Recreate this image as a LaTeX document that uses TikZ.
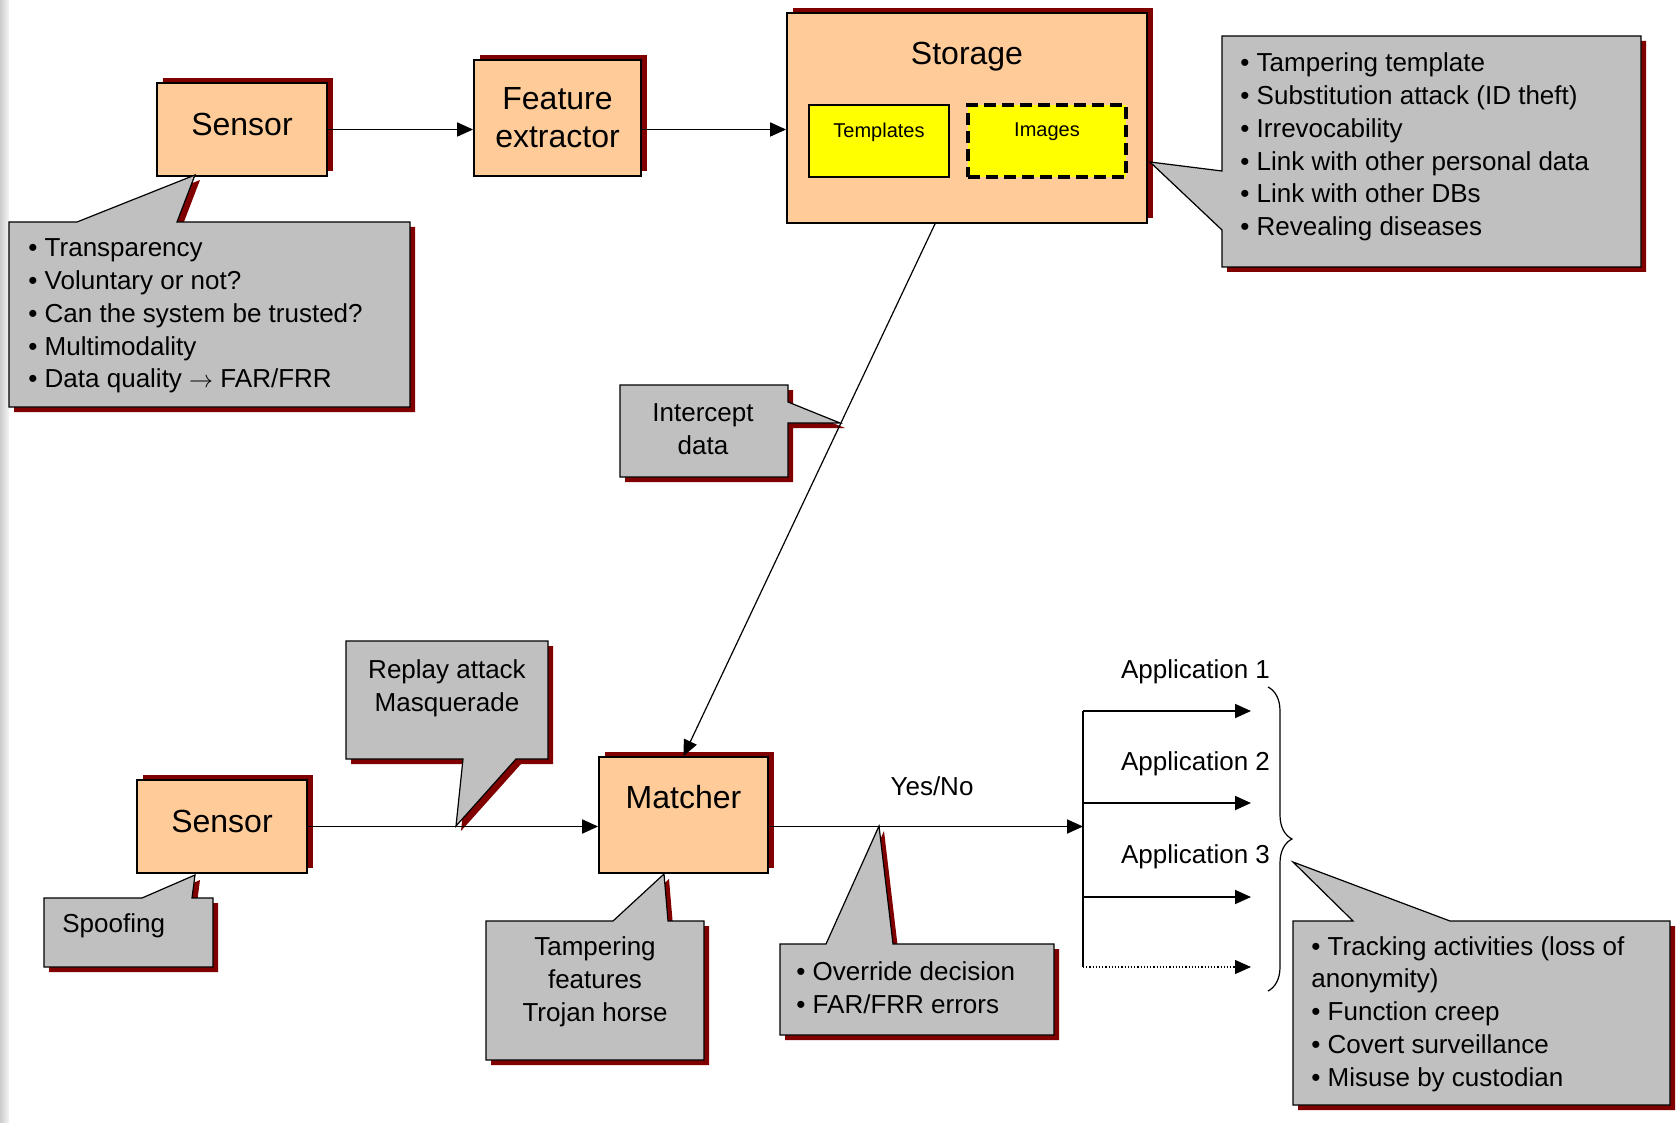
\documentclass[tikz,border=0pt]{standalone}
\usepackage{fontspec}
\setmainfont{Liberation Sans}
\usetikzlibrary{positioning, arrows.meta, shadows, decorations.pathreplacing}
\definecolor{peach}{HTML}{FFCC99}
\definecolor{bubblegray}{HTML}{C0C0C0}
\definecolor{shadowred}{HTML}{800000}
\definecolor{memyellow}{HTML}{FFFF00}
\newcommand{\boxfont}{\fontsize{16}{19}\selectfont}
\newcommand{\notefont}{\fontsize{13}{16.4}\selectfont}
\tikzset{
x=0.5pt, y=-0.5pt, % one unit is one pixel of the slide
>={Triangle[length=8pt,width=7pt]}, % filled arrow heads
block/.style={draw, line width=0.9pt, fill=peach, font=\boxfont, align=center, inner sep=0pt,
  drop shadow={fill=shadowred, opacity=1, shadow xshift=3pt, shadow yshift=2.5pt}}, % orange stages
memory/.style={draw, line width=0.8pt, fill=memyellow, font=\fontsize{10}{12}\selectfont,
  minimum width=70pt, minimum height=36pt, text depth=11pt, inner sep=0pt}, % boxes inside storage
bubble/.style={draw, line width=0.6pt, fill=bubblegray,
  drop shadow={fill=shadowred, opacity=1, shadow xshift=2.5pt, shadow yshift=-2.5pt}}, % grey callouts
note/.style={font=\notefont, align=left, inner sep=0pt}, % callout text
link/.style={->, line width=0.9pt}, % arrows between stages
}

\begin{document}
\begin{tikzpicture}[font=\notefont]
\useasboundingbox (0,0) rectangle (1676,1123);
\shade[left color=gray!40, right color=gray!8] (0,0) rectangle (9,1123);

% stages
\node[block, minimum width=85pt, minimum height=46.5pt, text depth=5pt] (sens1) at (242,129.5) {Sensor};
\node[block, minimum width=83.5pt, minimum height=58pt] (feat) at (557.5,118) {Feature\\extractor};
\node[block, minimum width=180pt, minimum height=105pt, text depth=65pt] (store) at (967,118) {Storage};
\node[memory] (tmpl) at (879,141) {Templates};
\node[memory, minimum width=79pt, line width=1.6pt, dash pattern=on 6pt off 3pt] (imgs) at (1047,141) {Images};
\node[block, minimum width=85pt, minimum height=46.5pt, text depth=5pt] (sens2) at (222,826.5) {Sensor};
\node[block, minimum width=84.5pt, minimum height=58pt, text depth=18pt] (match) at (683.5,815) {Matcher};

% callouts
\draw[bubble] (9,222) -- (77,222) -- (195,175) -- (177,222) -- (410,222) -- (410,407) -- (9,407) -- cycle;
\node[note, anchor=west] (n1) at (28,316) {• Transparency\\• Voluntary or not?\\• Can the system be trusted?\\• Multimodality\\• Data quality $\rightarrow$ FAR/FRR};

\draw[bubble] (1222,36) -- (1641,36) -- (1641,267) -- (1222,267) -- (1222,230) -- (1150,162) -- (1222,171) -- cycle;
\node[note, anchor=west] (n2) at (1240,147) {• Tampering template\\• Substitution attack (ID theft)\\• Irrevocability\\• Link with other personal data\\• Link with other DBs\\• Revealing diseases};

\draw[bubble] (620,385) -- (788,385) -- (788,402) -- (840,423) -- (788,423) -- (788,477) -- (620,477) -- cycle;
\node[note, align=center] (n3) at (703,429) {Intercept\\data};

\draw[bubble] (346,641) -- (548,641) -- (548,759) -- (516,759) -- (456,826) -- (463,759) -- (346,759) -- cycle;
\node[note, align=center] (n4) at (447,688) {Replay attack\\Masquerade};

\draw[bubble] (44,898) -- (142,898) -- (195,875) -- (192,898) -- (213,898) -- (213,967) -- (44,967) -- cycle;
\node[note, anchor=west] (n5) at (62,926) {Spoofing};

\draw[bubble] (486,921) -- (613,921) -- (664,874) -- (668,921) -- (704,921) -- (704,1060) -- (486,1060) -- cycle;
\node[note, align=center] (n6) at (595,982) {Tampering\\features\\Trojan horse};

\draw[bubble] (780,944) -- (826,944) -- (879,826) -- (893,944) -- (1054,944) -- (1054,1035) -- (780,1035) -- cycle;
\node[note, anchor=west] (n7) at (796,988) {• Override decision\\• FAR/FRR errors};

\draw[bubble] (1293,921) -- (1353,921) -- (1293,862) -- (1450,921) -- (1670,921) -- (1670,1105) -- (1293,1105) -- cycle;
\node[note, anchor=west] (n8) at (1311,1014) {• Tracking activities (loss of\\anonymity)\\• Function creep\\• Covert surveillance\\• Misuse by custodian};

% applications
\foreach \n/\y in {1/711,2/803,3/897,4/967} {
  \coordinate (s\n) at (1083,\y);
  \coordinate (e\n) at (1251,\y);
}
\node[anchor=east] (app1) at (1277,672) {Application 1};
\node[anchor=east] (app2) at (1277,764) {Application 2};
\node[anchor=east] (app3) at (1277,857) {Application 3};
\node (yesno) at (932,786) {Yes/No};
\coordinate (br1) at (1268,687);
\coordinate (br2) at (1268,991);

% connections
\draw[link] (sens1) -- (sens1 -| feat.west);
\draw[link] (feat.east |- sens1) -- (sens1 -| store.west);
\draw[link, line width=0.6pt] ([xshift=-16pt]store.south) -- (match.north);
\draw[link] (sens2) -- (sens2 -| match.west);
\draw[link] (match.east |- sens2) -- (s1 |- sens2);
\draw[line width=0.7pt] (s1) -- (s4);
\foreach \n in {1,2,3}
  \draw[link] (s\n) -- (e\n);
\draw[link, line width=0.6pt, densely dotted] (s4) -- (e4);
\draw[line width=0.6pt, decorate, decoration={brace, amplitude=12pt}] (br1) -- (br2);
\end{tikzpicture}
\end{document}
